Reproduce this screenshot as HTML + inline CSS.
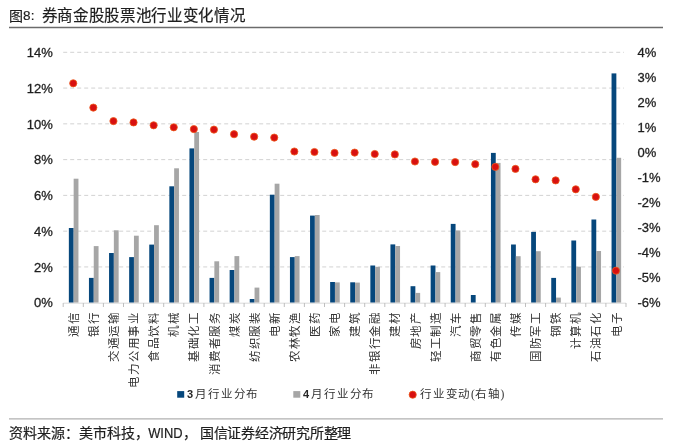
<!DOCTYPE html>
<html lang="zh-CN"><head><meta charset="utf-8">
<style>
html,body{margin:0;padding:0;background:#fff;width:675px;height:441px;overflow:hidden;}
svg{position:absolute;left:0;top:0;will-change:transform;}
.ax{font-family:"Liberation Sans",sans-serif;font-size:13px;fill:#1e1e1e;stroke:#1e1e1e;stroke-width:0.3px;}
.xl{font-family:"Liberation Serif",serif;font-size:11.5px;fill:#333;font-weight:300;}
.lg{font-family:"Liberation Serif",serif;font-size:11.5px;fill:#333;font-weight:300;}
.lgn{font-family:"Liberation Sans",sans-serif;font-size:11px;font-weight:bold;fill:#262626;}
.title{font-family:"Liberation Sans",sans-serif;font-size:15.5px;fill:#1e1e1e;stroke:#1e1e1e;stroke-width:0.2px;}
.foot{font-family:"Liberation Sans",sans-serif;font-size:14px;fill:#1e1e1e;stroke:#1e1e1e;stroke-width:0.2px;}
</style></head><body>
<svg width="675" height="441" viewBox="0 0 675 441">
<text y="21" class="title"><tspan x="8.9" style="font-size:14px">图</tspan><tspan x="23.0" y="20.2" style="font-size:13.5px">8</tspan><tspan x="30.8" y="20.2" style="font-size:13.5px">:</tspan><tspan y="21" x="41.80 57.46 73.12 88.78 104.44 120.10 135.76 151.42 167.08 182.74 198.40 214.06 229.72">券商金股股票池行业变化情况</tspan></text>
<line x1="9" y1="27.5" x2="663" y2="27.5" stroke="#6b6b6b" stroke-width="1.3"/>
<line x1="63.2" y1="266.93" x2="624" y2="266.93" stroke="#d2d2d2" stroke-width="1" stroke-dasharray="4 3"/>
<line x1="63.2" y1="231.16" x2="624" y2="231.16" stroke="#d2d2d2" stroke-width="1" stroke-dasharray="4 3"/>
<line x1="63.2" y1="195.39" x2="624" y2="195.39" stroke="#d2d2d2" stroke-width="1" stroke-dasharray="4 3"/>
<line x1="63.2" y1="159.61" x2="624" y2="159.61" stroke="#d2d2d2" stroke-width="1" stroke-dasharray="4 3"/>
<line x1="63.2" y1="123.84" x2="624" y2="123.84" stroke="#d2d2d2" stroke-width="1" stroke-dasharray="4 3"/>
<line x1="63.2" y1="88.07" x2="624" y2="88.07" stroke="#d2d2d2" stroke-width="1" stroke-dasharray="4 3"/>
<line x1="63.2" y1="52.30" x2="624" y2="52.30" stroke="#d2d2d2" stroke-width="1" stroke-dasharray="4 3"/>
<rect x="68.85" y="228.00" width="4.80" height="74.70" fill="#06477c"/>
<rect x="73.65" y="178.70" width="4.80" height="124.00" fill="#a6a6a6"/>
<rect x="88.95" y="277.90" width="4.80" height="24.80" fill="#06477c"/>
<rect x="93.75" y="246.10" width="4.80" height="56.60" fill="#a6a6a6"/>
<rect x="109.05" y="253.00" width="4.80" height="49.70" fill="#06477c"/>
<rect x="113.85" y="230.30" width="4.80" height="72.40" fill="#a6a6a6"/>
<rect x="129.15" y="257.10" width="4.80" height="45.60" fill="#06477c"/>
<rect x="133.95" y="235.70" width="4.80" height="67.00" fill="#a6a6a6"/>
<rect x="149.25" y="244.60" width="4.80" height="58.10" fill="#06477c"/>
<rect x="154.05" y="225.20" width="4.80" height="77.50" fill="#a6a6a6"/>
<rect x="169.35" y="186.30" width="4.80" height="116.40" fill="#06477c"/>
<rect x="174.15" y="168.30" width="4.80" height="134.40" fill="#a6a6a6"/>
<rect x="189.45" y="148.40" width="4.80" height="154.30" fill="#06477c"/>
<rect x="194.25" y="132.00" width="4.80" height="170.70" fill="#a6a6a6"/>
<rect x="209.55" y="277.90" width="4.80" height="24.80" fill="#06477c"/>
<rect x="214.35" y="261.30" width="4.80" height="41.40" fill="#a6a6a6"/>
<rect x="229.65" y="270.00" width="4.80" height="32.70" fill="#06477c"/>
<rect x="234.45" y="256.10" width="4.80" height="46.60" fill="#a6a6a6"/>
<rect x="249.75" y="299.00" width="4.80" height="3.70" fill="#06477c"/>
<rect x="254.55" y="287.60" width="4.80" height="15.10" fill="#a6a6a6"/>
<rect x="269.85" y="194.70" width="4.80" height="108.00" fill="#06477c"/>
<rect x="274.65" y="183.70" width="4.80" height="119.00" fill="#a6a6a6"/>
<rect x="289.95" y="257.10" width="4.80" height="45.60" fill="#06477c"/>
<rect x="294.75" y="256.10" width="4.80" height="46.60" fill="#a6a6a6"/>
<rect x="310.05" y="215.60" width="4.80" height="87.10" fill="#06477c"/>
<rect x="314.85" y="215.00" width="4.80" height="87.70" fill="#a6a6a6"/>
<rect x="330.15" y="282.00" width="4.80" height="20.70" fill="#06477c"/>
<rect x="334.95" y="282.40" width="4.80" height="20.30" fill="#a6a6a6"/>
<rect x="350.25" y="282.30" width="4.80" height="20.40" fill="#06477c"/>
<rect x="355.05" y="282.60" width="4.80" height="20.10" fill="#a6a6a6"/>
<rect x="370.35" y="265.50" width="4.80" height="37.20" fill="#06477c"/>
<rect x="375.15" y="266.80" width="4.80" height="35.90" fill="#a6a6a6"/>
<rect x="390.45" y="244.40" width="4.80" height="58.30" fill="#06477c"/>
<rect x="395.25" y="246.00" width="4.80" height="56.70" fill="#a6a6a6"/>
<rect x="410.55" y="286.20" width="4.80" height="16.50" fill="#06477c"/>
<rect x="415.35" y="292.90" width="4.80" height="9.80" fill="#a6a6a6"/>
<rect x="430.65" y="265.50" width="4.80" height="37.20" fill="#06477c"/>
<rect x="435.45" y="272.10" width="4.80" height="30.60" fill="#a6a6a6"/>
<rect x="450.75" y="223.90" width="4.80" height="78.80" fill="#06477c"/>
<rect x="455.55" y="230.50" width="4.80" height="72.20" fill="#a6a6a6"/>
<rect x="470.85" y="295.00" width="4.80" height="7.70" fill="#06477c"/>
<rect x="490.95" y="152.90" width="4.80" height="149.80" fill="#06477c"/>
<rect x="495.75" y="162.90" width="4.80" height="139.80" fill="#a6a6a6"/>
<rect x="511.05" y="244.50" width="4.80" height="58.20" fill="#06477c"/>
<rect x="515.85" y="256.20" width="4.80" height="46.50" fill="#a6a6a6"/>
<rect x="531.15" y="231.90" width="4.80" height="70.80" fill="#06477c"/>
<rect x="535.95" y="251.20" width="4.80" height="51.50" fill="#a6a6a6"/>
<rect x="551.25" y="277.90" width="4.80" height="24.80" fill="#06477c"/>
<rect x="556.05" y="297.60" width="4.80" height="5.10" fill="#a6a6a6"/>
<rect x="571.35" y="240.50" width="4.80" height="62.20" fill="#06477c"/>
<rect x="576.15" y="266.70" width="4.80" height="36.00" fill="#a6a6a6"/>
<rect x="591.45" y="219.50" width="4.80" height="83.20" fill="#06477c"/>
<rect x="596.25" y="251.00" width="4.80" height="51.70" fill="#a6a6a6"/>
<rect x="611.55" y="73.40" width="4.80" height="229.30" fill="#06477c"/>
<rect x="616.35" y="157.80" width="4.80" height="144.90" fill="#a6a6a6"/>
<line x1="63.2" y1="303.2" x2="626" y2="303.2" stroke="#d9d9d9" stroke-width="1"/>
<line x1="63.20" y1="303" x2="63.20" y2="307" stroke="#bfbfbf" stroke-width="1"/>
<line x1="83.30" y1="303" x2="83.30" y2="307" stroke="#bfbfbf" stroke-width="1"/>
<line x1="103.40" y1="303" x2="103.40" y2="307" stroke="#bfbfbf" stroke-width="1"/>
<line x1="123.50" y1="303" x2="123.50" y2="307" stroke="#bfbfbf" stroke-width="1"/>
<line x1="143.60" y1="303" x2="143.60" y2="307" stroke="#bfbfbf" stroke-width="1"/>
<line x1="163.70" y1="303" x2="163.70" y2="307" stroke="#bfbfbf" stroke-width="1"/>
<line x1="183.80" y1="303" x2="183.80" y2="307" stroke="#bfbfbf" stroke-width="1"/>
<line x1="203.90" y1="303" x2="203.90" y2="307" stroke="#bfbfbf" stroke-width="1"/>
<line x1="224.00" y1="303" x2="224.00" y2="307" stroke="#bfbfbf" stroke-width="1"/>
<line x1="244.10" y1="303" x2="244.10" y2="307" stroke="#bfbfbf" stroke-width="1"/>
<line x1="264.20" y1="303" x2="264.20" y2="307" stroke="#bfbfbf" stroke-width="1"/>
<line x1="284.30" y1="303" x2="284.30" y2="307" stroke="#bfbfbf" stroke-width="1"/>
<line x1="304.40" y1="303" x2="304.40" y2="307" stroke="#bfbfbf" stroke-width="1"/>
<line x1="324.50" y1="303" x2="324.50" y2="307" stroke="#bfbfbf" stroke-width="1"/>
<line x1="344.60" y1="303" x2="344.60" y2="307" stroke="#bfbfbf" stroke-width="1"/>
<line x1="364.70" y1="303" x2="364.70" y2="307" stroke="#bfbfbf" stroke-width="1"/>
<line x1="384.80" y1="303" x2="384.80" y2="307" stroke="#bfbfbf" stroke-width="1"/>
<line x1="404.90" y1="303" x2="404.90" y2="307" stroke="#bfbfbf" stroke-width="1"/>
<line x1="425.00" y1="303" x2="425.00" y2="307" stroke="#bfbfbf" stroke-width="1"/>
<line x1="445.10" y1="303" x2="445.10" y2="307" stroke="#bfbfbf" stroke-width="1"/>
<line x1="465.20" y1="303" x2="465.20" y2="307" stroke="#bfbfbf" stroke-width="1"/>
<line x1="485.30" y1="303" x2="485.30" y2="307" stroke="#bfbfbf" stroke-width="1"/>
<line x1="505.40" y1="303" x2="505.40" y2="307" stroke="#bfbfbf" stroke-width="1"/>
<line x1="525.50" y1="303" x2="525.50" y2="307" stroke="#bfbfbf" stroke-width="1"/>
<line x1="545.60" y1="303" x2="545.60" y2="307" stroke="#bfbfbf" stroke-width="1"/>
<line x1="565.70" y1="303" x2="565.70" y2="307" stroke="#bfbfbf" stroke-width="1"/>
<line x1="585.80" y1="303" x2="585.80" y2="307" stroke="#bfbfbf" stroke-width="1"/>
<line x1="605.90" y1="303" x2="605.90" y2="307" stroke="#bfbfbf" stroke-width="1"/>
<line x1="626.00" y1="303" x2="626.00" y2="307" stroke="#bfbfbf" stroke-width="1"/>
<circle cx="73.25" cy="83.30" r="3.6" fill="#d81010" stroke="#ee5a1c" stroke-width="0.8"/>
<circle cx="93.35" cy="107.60" r="3.6" fill="#d81010" stroke="#ee5a1c" stroke-width="0.8"/>
<circle cx="113.45" cy="121.10" r="3.6" fill="#d81010" stroke="#ee5a1c" stroke-width="0.8"/>
<circle cx="133.55" cy="122.40" r="3.6" fill="#d81010" stroke="#ee5a1c" stroke-width="0.8"/>
<circle cx="153.65" cy="125.30" r="3.6" fill="#d81010" stroke="#ee5a1c" stroke-width="0.8"/>
<circle cx="173.75" cy="127.30" r="3.6" fill="#d81010" stroke="#ee5a1c" stroke-width="0.8"/>
<circle cx="193.85" cy="129.10" r="3.6" fill="#d81010" stroke="#ee5a1c" stroke-width="0.8"/>
<circle cx="213.95" cy="129.60" r="3.6" fill="#d81010" stroke="#ee5a1c" stroke-width="0.8"/>
<circle cx="234.05" cy="134.20" r="3.6" fill="#d81010" stroke="#ee5a1c" stroke-width="0.8"/>
<circle cx="254.15" cy="136.70" r="3.6" fill="#d81010" stroke="#ee5a1c" stroke-width="0.8"/>
<circle cx="274.25" cy="137.60" r="3.6" fill="#d81010" stroke="#ee5a1c" stroke-width="0.8"/>
<circle cx="294.35" cy="151.50" r="3.6" fill="#d81010" stroke="#ee5a1c" stroke-width="0.8"/>
<circle cx="314.45" cy="152.00" r="3.6" fill="#d81010" stroke="#ee5a1c" stroke-width="0.8"/>
<circle cx="334.55" cy="152.90" r="3.6" fill="#d81010" stroke="#ee5a1c" stroke-width="0.8"/>
<circle cx="354.65" cy="152.60" r="3.6" fill="#d81010" stroke="#ee5a1c" stroke-width="0.8"/>
<circle cx="374.75" cy="154.00" r="3.6" fill="#d81010" stroke="#ee5a1c" stroke-width="0.8"/>
<circle cx="394.85" cy="154.40" r="3.6" fill="#d81010" stroke="#ee5a1c" stroke-width="0.8"/>
<circle cx="414.95" cy="161.50" r="3.6" fill="#d81010" stroke="#ee5a1c" stroke-width="0.8"/>
<circle cx="435.05" cy="161.90" r="3.6" fill="#d81010" stroke="#ee5a1c" stroke-width="0.8"/>
<circle cx="455.15" cy="162.10" r="3.6" fill="#d81010" stroke="#ee5a1c" stroke-width="0.8"/>
<circle cx="475.25" cy="164.20" r="3.6" fill="#d81010" stroke="#ee5a1c" stroke-width="0.8"/>
<circle cx="495.35" cy="166.90" r="3.6" fill="#d81010" stroke="#ee5a1c" stroke-width="0.8"/>
<circle cx="515.45" cy="168.90" r="3.6" fill="#d81010" stroke="#ee5a1c" stroke-width="0.8"/>
<circle cx="535.55" cy="179.30" r="3.6" fill="#d81010" stroke="#ee5a1c" stroke-width="0.8"/>
<circle cx="555.65" cy="180.40" r="3.6" fill="#d81010" stroke="#ee5a1c" stroke-width="0.8"/>
<circle cx="575.75" cy="189.30" r="3.6" fill="#d81010" stroke="#ee5a1c" stroke-width="0.8"/>
<circle cx="595.85" cy="196.90" r="3.6" fill="#d81010" stroke="#ee5a1c" stroke-width="0.8"/>
<circle cx="615.95" cy="270.70" r="3.6" fill="#d81010" stroke="#ee5a1c" stroke-width="0.8"/>
<text x="52.8" y="307.40" text-anchor="end" class="ax">0%</text>
<text x="52.8" y="271.63" text-anchor="end" class="ax">2%</text>
<text x="52.8" y="235.86" text-anchor="end" class="ax">4%</text>
<text x="52.8" y="200.09" text-anchor="end" class="ax">6%</text>
<text x="52.8" y="164.31" text-anchor="end" class="ax">8%</text>
<text x="52.8" y="128.54" text-anchor="end" class="ax">10%</text>
<text x="52.8" y="92.77" text-anchor="end" class="ax">12%</text>
<text x="52.8" y="57.00" text-anchor="end" class="ax">14%</text>
<text x="637.5" y="57.00" class="ax">4%</text>
<text x="637.5" y="82.04" class="ax">3%</text>
<text x="637.5" y="107.08" class="ax">2%</text>
<text x="637.5" y="132.12" class="ax">1%</text>
<text x="637.5" y="157.16" class="ax">0%</text>
<text x="637.5" y="182.20" class="ax">-1%</text>
<text x="637.5" y="207.24" class="ax">-2%</text>
<text x="637.5" y="232.28" class="ax">-3%</text>
<text x="637.5" y="257.32" class="ax">-4%</text>
<text x="637.5" y="282.36" class="ax">-5%</text>
<text x="637.5" y="307.40" class="ax">-6%</text>
<text transform="translate(77.85,311.4) rotate(-90)" x="-25.40 -12.70" class="xl">通信</text>
<text transform="translate(97.95,311.4) rotate(-90)" x="-25.40 -12.70" class="xl">银行</text>
<text transform="translate(118.05,311.4) rotate(-90)" x="-50.80 -38.10 -25.40 -12.70" class="xl">交通运输</text>
<text transform="translate(138.15,311.4) rotate(-90)" x="-76.20 -63.50 -50.80 -38.10 -25.40 -12.70" class="xl">电力公用事业</text>
<text transform="translate(158.25,311.4) rotate(-90)" x="-50.80 -38.10 -25.40 -12.70" class="xl">食品饮料</text>
<text transform="translate(178.35,311.4) rotate(-90)" x="-25.40 -12.70" class="xl">机械</text>
<text transform="translate(198.45,311.4) rotate(-90)" x="-50.80 -38.10 -25.40 -12.70" class="xl">基础化工</text>
<text transform="translate(218.55,311.4) rotate(-90)" x="-63.50 -50.80 -38.10 -25.40 -12.70" class="xl">消费者服务</text>
<text transform="translate(238.65,311.4) rotate(-90)" x="-25.40 -12.70" class="xl">煤炭</text>
<text transform="translate(258.75,311.4) rotate(-90)" x="-50.80 -38.10 -25.40 -12.70" class="xl">纺织服装</text>
<text transform="translate(278.85,311.4) rotate(-90)" x="-25.40 -12.70" class="xl">电新</text>
<text transform="translate(298.95,311.4) rotate(-90)" x="-50.80 -38.10 -25.40 -12.70" class="xl">农林牧渔</text>
<text transform="translate(319.05,311.4) rotate(-90)" x="-25.40 -12.70" class="xl">医药</text>
<text transform="translate(339.15,311.4) rotate(-90)" x="-25.40 -12.70" class="xl">家电</text>
<text transform="translate(359.25,311.4) rotate(-90)" x="-25.40 -12.70" class="xl">建筑</text>
<text transform="translate(379.35,311.4) rotate(-90)" x="-63.50 -50.80 -38.10 -25.40 -12.70" class="xl">非银行金融</text>
<text transform="translate(399.45,311.4) rotate(-90)" x="-25.40 -12.70" class="xl">建材</text>
<text transform="translate(419.55,311.4) rotate(-90)" x="-38.10 -25.40 -12.70" class="xl">房地产</text>
<text transform="translate(439.65,311.4) rotate(-90)" x="-50.80 -38.10 -25.40 -12.70" class="xl">轻工制造</text>
<text transform="translate(459.75,311.4) rotate(-90)" x="-25.40 -12.70" class="xl">汽车</text>
<text transform="translate(479.85,311.4) rotate(-90)" x="-50.80 -38.10 -25.40 -12.70" class="xl">商贸零售</text>
<text transform="translate(499.95,311.4) rotate(-90)" x="-50.80 -38.10 -25.40 -12.70" class="xl">有色金属</text>
<text transform="translate(520.05,311.4) rotate(-90)" x="-25.40 -12.70" class="xl">传媒</text>
<text transform="translate(540.15,311.4) rotate(-90)" x="-50.80 -38.10 -25.40 -12.70" class="xl">国防军工</text>
<text transform="translate(560.25,311.4) rotate(-90)" x="-25.40 -12.70" class="xl">钢铁</text>
<text transform="translate(580.35,311.4) rotate(-90)" x="-38.10 -25.40 -12.70" class="xl">计算机</text>
<text transform="translate(600.45,311.4) rotate(-90)" x="-50.80 -38.10 -25.40 -12.70" class="xl">石油石化</text>
<text transform="translate(620.55,311.4) rotate(-90)" x="-25.40 -12.70" class="xl">电子</text>
<rect x="177.2" y="391.1" width="7" height="6.6" fill="#06477c"/>
<text x="187" y="398" class="lgn">3</text>
<text y="398.3" class="lg" x="195.20 208.00 220.80 233.60 246.40">月行业分布</text>
<rect x="293.3" y="391.1" width="7" height="6.6" fill="#a6a6a6"/>
<text x="303" y="398" class="lgn">4</text>
<text y="398.3" class="lg" x="311.20 324.00 336.80 349.60 362.40">月行业分布</text>
<circle cx="412.7" cy="394.7" r="3.6" fill="#d81010" stroke="#ee5a1c" stroke-width="0.8"/>
<text y="398.3" class="lg"><tspan x="420.00 432.80 445.60 458.40">行业变动</tspan><tspan x="471">(</tspan><tspan x="475.00 487.80">右轴</tspan><tspan x="500.5">)</tspan></text>
<line x1="9" y1="418.8" x2="663" y2="418.8" stroke="#b0b0b0" stroke-width="1.3"/>
<text y="437.5" class="foot"><tspan x="8.60 22.60 36.60 50.60 64.60 78.60 92.60 106.60 120.60 134.60">资料来源：美市科技，</tspan><tspan x="148.2" style="font-size:14px" textLength="34.4" lengthAdjust="spacingAndGlyphs">WIND</tspan><tspan x="182.60">，</tspan><tspan x="199.80 213.55 227.30 241.05 254.80 268.55 282.30 296.05 309.80 323.55 337.30">国信证券经济研究所整理</tspan></text>
</svg>
</body></html>
